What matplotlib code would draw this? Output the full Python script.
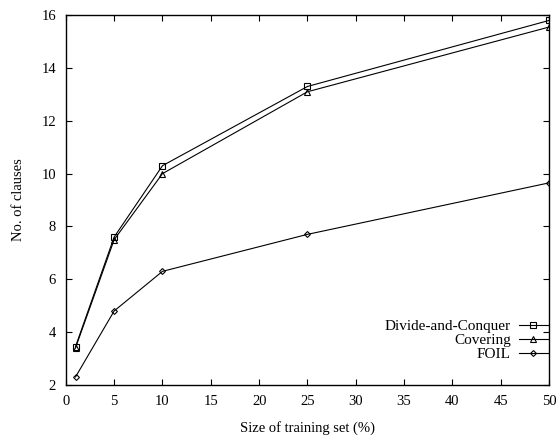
import matplotlib
matplotlib.use("Agg")
import matplotlib.pyplot as plt

x = [1, 5, 10, 25, 50]
dac = [3.45, 7.6, 10.3, 13.3, 15.8]
cov = [3.4, 7.5, 10.0, 13.1, 15.55]
foil = [2.3, 4.8, 6.3, 7.7, 9.65]

plt.rcParams['font.family'] = ['Liberation Serif', 'DejaVu Serif']
plt.rcParams['font.size'] = 10.5

fig = plt.figure(figsize=(5.58, 4.46), dpi=100)
ax = fig.add_axes([0.118, 0.137, 0.866, 0.829])

ax.plot(x, dac, color='black', lw=0.8, marker='s', ms=5, mfc='none', mec='black', mew=0.8, label='Divide-and-Conquer')
ax.plot(x, cov, color='black', lw=0.8, marker='^', ms=4, mfc='none', mec='black', mew=0.8, label='Covering')
ax.plot(x, foil, color='black', lw=0.8, marker='D', ms=3, mfc='none', mec='black', mew=0.8, label='FOIL')

ax.set_xlim(0, 50)
ax.set_ylim(2, 16)
ax.set_xticks(range(0, 51, 5))
ax.set_yticks(range(2, 17, 2))
ax.tick_params(direction='in', top=True, right=True, length=4, width=0.8, pad=7, labelsize=10.5)
for s in ax.spines.values():
    s.set_linewidth(1.0)
ax.set_xlabel('Size of training set (%)', labelpad=10, fontsize=10.5)
ax.set_ylabel('No. of clauses', labelpad=12, fontsize=10.5)

leg = ax.legend(loc='lower right', bbox_to_anchor=(0.997, 0.065), frameon=False, markerfirst=False,
                handlelength=1.9, handletextpad=0.5, labelspacing=0.0, borderaxespad=0.0,
                borderpad=0.0, fontsize=11)
for t in leg.get_texts():
    t.set_ha('right')
leg._legend_box.align = 'right'

fig.savefig('out.png', dpi=100)
